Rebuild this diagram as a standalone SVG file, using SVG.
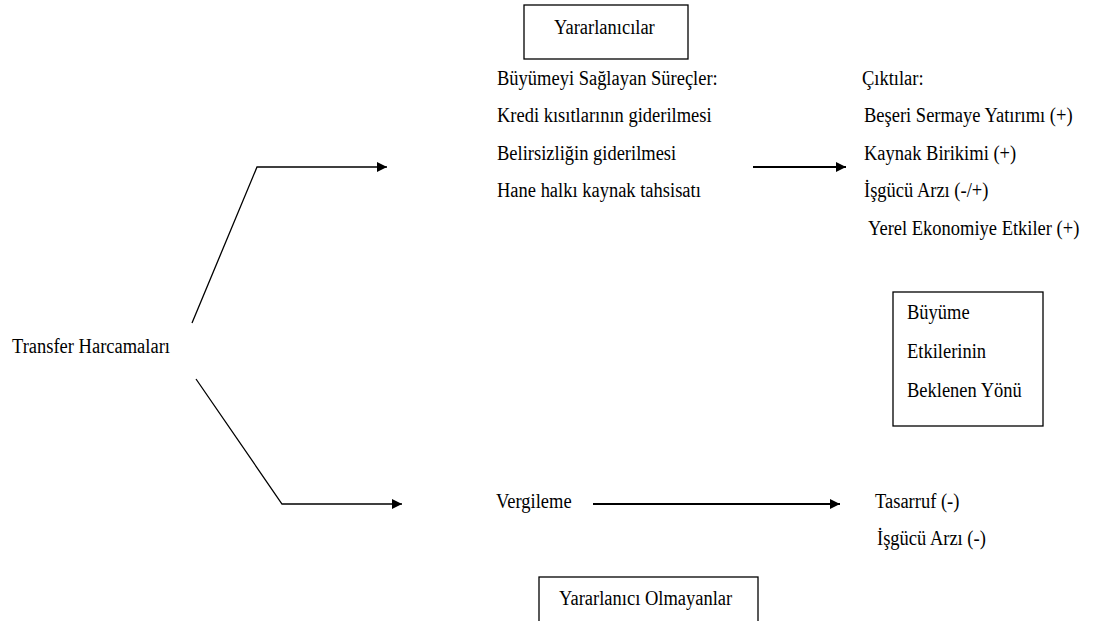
<svg xmlns="http://www.w3.org/2000/svg" width="1094" height="621" viewBox="0 0 1094 621">
<style>
text{font-family:"Liberation Serif","Times New Roman",serif;font-size:18.5px;fill:#000}
.box{fill:none;stroke:#000;stroke-width:1.3}
.conn{fill:none;stroke:#000;stroke-width:1.3}
.arr{fill:none;stroke:#000;stroke-width:2}
</style>
<defs>
<marker id="ah" viewBox="0 0 10 10" refX="10" refY="5" markerWidth="10" markerHeight="10" markerUnits="userSpaceOnUse" orient="auto">
<path d="M0,0 L10,5 L0,10 Z" fill="#000"/>
</marker>
</defs>
<rect width="1094" height="621" fill="#fff"/>
<g id="connectors">
<polyline class="conn" points="192,323 257,167 387,167" marker-end="url(#ah)"/>
<polyline class="conn" points="196,379 282,504 402,504" marker-end="url(#ah)"/>
<line class="arr" x1="753" y1="167" x2="846" y2="167" marker-end="url(#ah)"/>
<line class="arr" x1="593" y1="504" x2="840" y2="504" marker-end="url(#ah)"/>
</g>
<g id="yararlanicilar">
<rect class="box" x="524" y="5" width="164" height="54"/>
<text transform="translate(554,34) scale(1,1.18)">Yararlanıcılar</text>
</g>
<g id="surecler">
<text transform="translate(497,85) scale(1,1.18)">Büyümeyi Sağlayan Süreçler:</text>
<text transform="translate(497,122) scale(1,1.18)">Kredi kısıtlarının giderilmesi</text>
<text transform="translate(497,160) scale(1,1.18)">Belirsizliğin giderilmesi</text>
<text transform="translate(497,197) scale(1,1.18)">Hane halkı kaynak tahsisatı</text>
</g>
<g id="ciktilar">
<text transform="translate(862,85) scale(1,1.18)">Çıktılar:</text>
<text transform="translate(864,122) scale(1,1.18)">Beşeri Sermaye Yatırımı (+)</text>
<text transform="translate(864,160) scale(1,1.18)">Kaynak Birikimi  (+)</text>
<text transform="translate(864,197) scale(1,1.18)">İşgücü Arzı (-/+)</text>
<text transform="translate(868,235) scale(1,1.18)">Yerel Ekonomiye Etkiler (+)</text>
</g>
<g id="transfer">
<text transform="translate(12,353) scale(1,1.18)">Transfer Harcamaları</text>
</g>
<g id="buyume">
<rect class="box" x="893" y="292" width="150" height="134"/>
<text transform="translate(907,319) scale(1,1.18)">Büyüme</text>
<text transform="translate(907,358) scale(1,1.18)">Etkilerinin</text>
<text transform="translate(907,397) scale(1,1.18)">Beklenen Yönü</text>
</g>
<g id="vergileme">
<text transform="translate(496,508) scale(1,1.18)">Vergileme</text>
</g>
<g id="tasarruf">
<text transform="translate(875,508) scale(1,1.18)">Tasarruf (-)</text>
<text transform="translate(877,545) scale(1,1.18)">İşgücü Arzı (-)</text>
</g>
<g id="olmayanlar">
<rect class="box" x="539" y="577" width="219" height="60"/>
<text transform="translate(559,605) scale(1,1.18)">Yararlanıcı Olmayanlar</text>
</g>
</svg>
